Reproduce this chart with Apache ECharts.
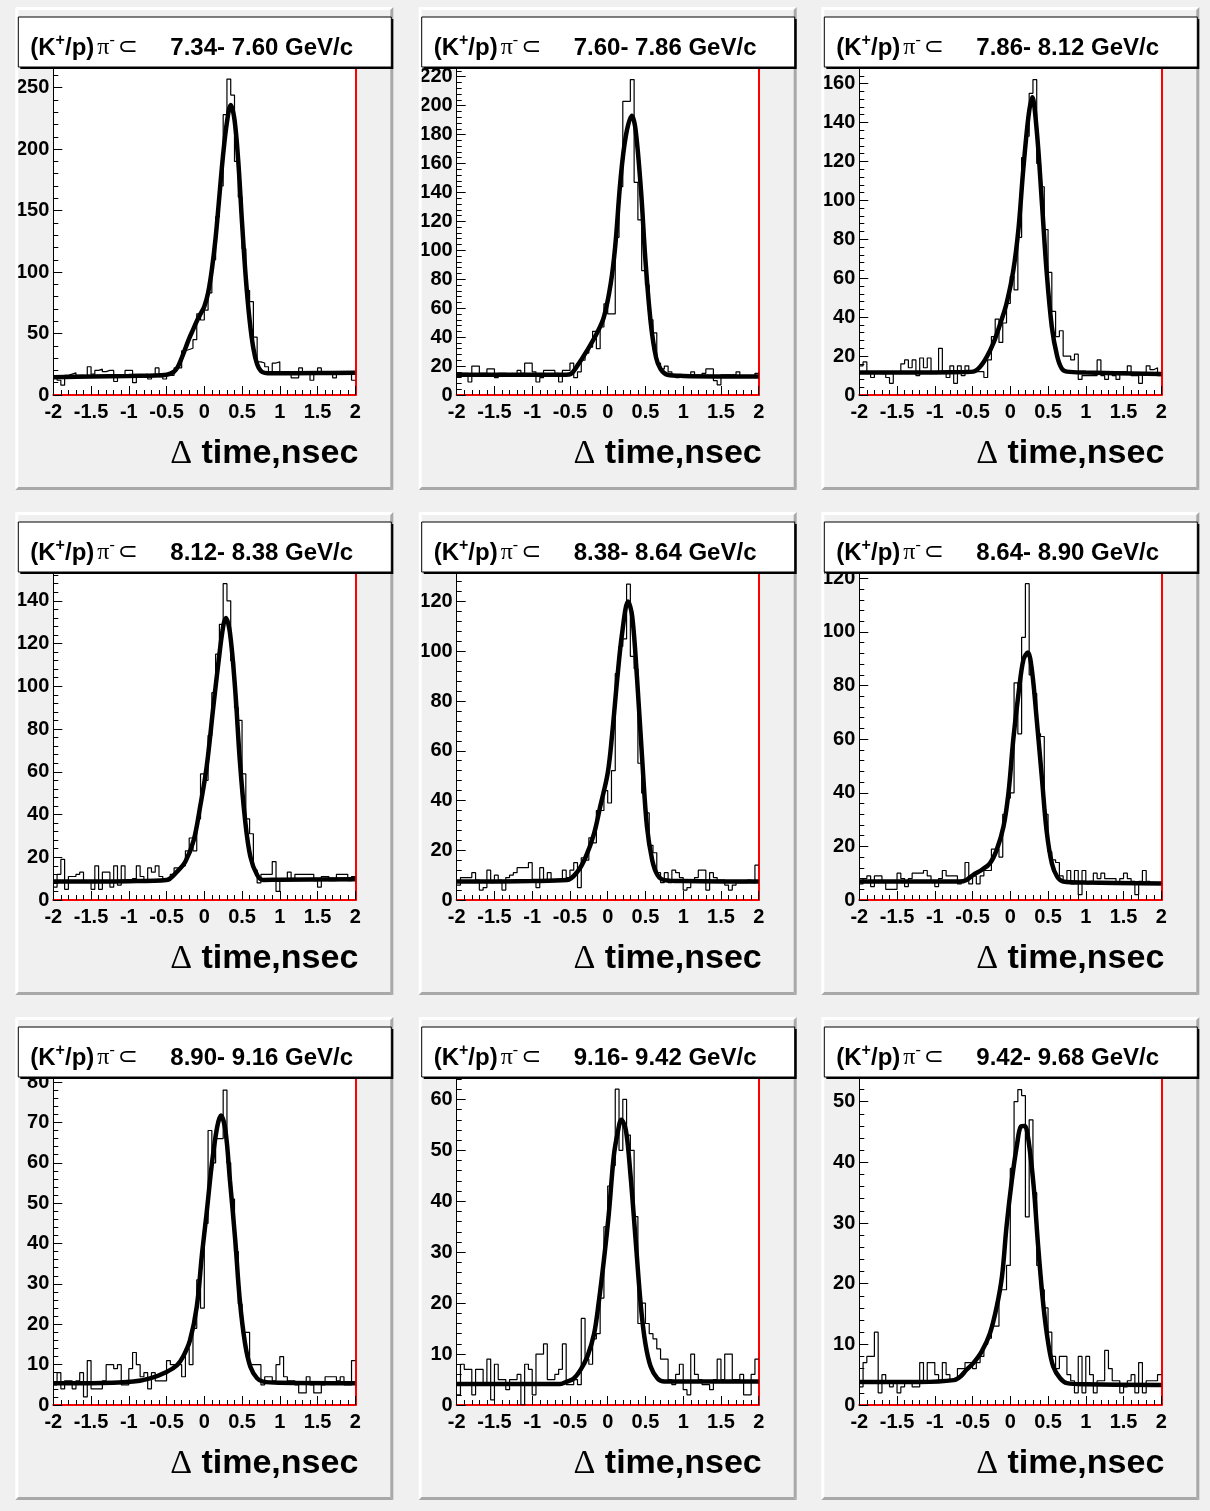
<!DOCTYPE html>
<html><head><meta charset="utf-8">
<script src="https://cdn.jsdelivr.net/npm/echarts@6/dist/echarts.min.js"></script>
<style>html,body{margin:0;padding:0;background:#f0f0f0}#c{width:1210px;height:1511px}</style>
</head><body><div id="c"></div>
<script>
// ---- data ----
const pLow  = ['7.34','7.60','7.86','8.12','8.38','8.64','8.90','9.16','9.42'];
const pHigh = ['7.60','7.86','8.12','8.38','8.64','8.90','9.16','9.42','9.68'];
const xMin = -2, xMax = 2, xMajor = 0.5, xMinor = 0.1, binWidth = 0.05;
const yMax   = [266, 226, 168, 153, 131.5, 122, 81, 64.2, 53.9];
const yMajor = [50, 20, 20, 20, 20, 20, 10, 10, 10];
const yMinor = [10, 4, 4, 4, 4, 4, 2, 2, 2];

const h1 = [15,12,8,16,17,18,16,16,15,23, 17,20,21,19,20,20,11,16,16,20, 20,10,16,16,17,13,16,22,15,13,
            16,16,22,22,36,37,38,45,66,61, 69,83,110,145,170,228,257,244,190,161, 119,85,76,47,27,26,23,19,26,27,
            19,17,17,14,14,22,17,17,12,19, 22,18,18,18,14,19,18,18,18,12];
const h2 = [15,15,15,9,20,20,15,15,18,18, 12,15,15,14,14,14,17,15,22,22, 16,9,12,17,17,17,15,9,17,17,
            22,12,16,24,29,33,44,32,47,63, 56,56,109,144,203,203,218,147,121,86, 76,52,43,22,18,20,16,14,12,14,
            13,13,16,13,13,15,18,18,10,7, 14,14,14,14,16,13,13,13,13,15];
const h3 = [15,17,12,9,12,11,11,9,6,12, 12,16,18,14,18,10,19,14,19,12, 12,24,12,9,15,6,15,10,15,12,
            12,12,12,9,18,30,39,27,37,47, 61,54,81,122,133,155,162,119,107,85, 63,43,30,33,20,20,18,21,8,10,
            10,10,10,18,10,8,12,10,8,12, 12,15,10,10,6,11,15,13,14,10];
const h4 = [6,12,19,5,11,11,12,13,9,9, 5,16,5,13,13,6,16,7,16,9, 9,10,16,11,9,15,13,16,11,9,
            9,12,15,15,16,23,29,23,38,59, 56,77,97,115,129,148,140,112,90,84, 59,38,31,14,8,12,12,12,18,4,
            9,9,13,10,12,12,12,12,12,9, 6,11,11,9,9,12,12,12,9,11];
const h5 = [6,9,9,9,11,8,4,5,12,7, 10,8,4,9,10,11,13,13,13,15, 8,5,13,8,11,8,8,8,12,9,
            12,15,5,17,16,25,23,36,36,44, 39,52,91,102,105,127,98,93,55,43, 35,22,19,11,7,11,7,12,11,9,
            4,5,8,9,12,12,4,11,9,8, 8,6,4,6,7,7,7,8,7,14];
const h6 = [6,8,9,5,9,9,7,4,4,4, 10,8,5,8,10,10,10,11,9,7, 5,8,11,9,9,9,6,7,14,6,
            9,6,9,11,11,19,19,16,32,38, 40,81,62,98,118,84,77,62,61,32, 18,15,14,9,7,11,6,11,2,11,
            6,7,10,8,10,8,8,8,6,8, 10,8,7,2,7,11,7,6,6,6];
const h7 = [5,8,4,6,6,4,6,8,2,11, 4,4,4,6,10,10,9,10,5,5, 9,13,10,7,8,4,8,6,6,6,
            11,10,10,10,7,14,10,19,31,24, 45,68,60,66,66,78,60,51,38,25, 18,18,10,10,10,5,7,7,6,10,
            12,7,6,6,5,3,3,7,5,3, 3,5,7,7,7,6,7,5,5,11];
const h8 = [2,8,7,7,2,7,7,4,9,1, 8,5,5,3,5,5,6,0,8,7, 2,10,10,12,5,5,6,7,12,4,
            4,5,4,17,9,8,13,14,21,35, 43,47,62,50,60,53,50,37,16,20, 16,14,13,11,9,9,5,4,6,8,
            3,2,10,6,5,4,4,3,5,9, 5,10,10,5,5,6,2,2,6,9];
const h9 = [3,7,8,8,12,2,5,4,3,4, 2,3,4,4,3,3,7,4,7,7, 5,4,7,5,4,4,6,6,7,7,
            6,7,8,10,11,13,13,19,19,23, 39,50,52,51,31,47,35,23,19,16, 12,8,6,8,8,5,4,2,8,2,
            8,5,2,4,4,9,6,4,4,2, 3,4,5,2,7,2,4,4,4,5];

const f1 = [[-2,14.5],[-1.5,15],[-1,15.5],[-0.5,16.5],[-0.4,19],[-0.35,23],[-0.3,30],[-0.25,38],[-0.2,46],[-0.15,53],[-0.1,60],[-0.05,66],[0,72],[0.05,83],[0.1,102],[0.15,128],[0.2,162],[0.25,196],[0.3,222],[0.35,236],[0.4,224],[0.45,190],[0.5,140],[0.55,95],[0.6,61],[0.65,38],[0.7,25],[0.75,19.5],[0.8,18],[0.9,17.6],[1.5,17.8],[2,18]];
const f2 = [[-2,14],[-1,14],[-0.55,14],[-0.49,14.5],[-0.41,19.6],[-0.27,31],[-0.14,43],[-0.05,54],[0.04,77],[0.1,103],[0.17,149],[0.24,179],[0.32,193],[0.37,183],[0.44,142],[0.5,93],[0.57,50],[0.64,26],[0.7,18],[0.79,14],[1,13.2],[2,12.7]];
const f3 = [[-2,11.5],[-1,11.6],[-0.6,11.8],[-0.49,12],[-0.4,14.5],[-0.31,19.7],[-0.22,27],[-0.13,37],[-0.05,47],[0.04,64],[0.11,86],[0.17,115],[0.24,143],[0.29,153],[0.35,136],[0.42,98],[0.48,64],[0.55,35],[0.62,20],[0.68,13.7],[0.75,12],[1,11.5],[2,10.8]];
const f4 = [[-2,8.6],[-1,8.8],[-0.5,9.4],[-0.36,13.3],[-0.25,18],[-0.14,28],[-0.055,43.7],[0.03,62],[0.12,90.5],[0.19,112],[0.25,128],[0.285,132],[0.34,125],[0.41,98],[0.47,65.5],[0.54,37.5],[0.61,20.3],[0.7,11.7],[0.78,9.4],[1,9.5],[2,9.7]];
const f5 = [[-2,7.4],[-1,7.6],[-0.54,8],[-0.4,11.4],[-0.29,17.4],[-0.18,26.8],[-0.1,37.5],[0,51],[0.06,67],[0.125,88.5],[0.19,107],[0.27,120],[0.325,114],[0.39,88.5],[0.46,55],[0.52,29.5],[0.59,16],[0.66,10],[0.75,8],[1,7.6],[2,7.4]];
const f6 = [[-2,6.9],[-1,6.9],[-0.67,6.9],[-0.58,7.5],[-0.49,9.4],[-0.38,11.2],[-0.27,13.7],[-0.18,18.7],[-0.09,27.4],[-0.024,40],[0.04,60],[0.11,77.3],[0.175,89.8],[0.232,92.3],[0.285,86],[0.35,67.3],[0.42,45],[0.48,26],[0.55,13.7],[0.62,8.7],[0.7,6.9],[1,6.5],[2,6.2]];
const f7 = [[-2,5.4],[-1.5,5.4],[-0.94,5.8],[-0.72,6.6],[-0.5,8.2],[-0.36,9.9],[-0.28,12],[-0.19,16],[-0.1,24.3],[-0.03,37.5],[0.03,47.4],[0.1,59.7],[0.17,68.8],[0.22,71.7],[0.28,68],[0.34,55.6],[0.41,40.8],[0.47,26],[0.54,15.2],[0.61,9.5],[0.7,6.6],[0.78,5.8],[1,5.5],[2,5.4]];
const f8 = [[-2,4.1],[-1,4.1],[-0.63,4.1],[-0.54,4.6],[-0.45,5.2],[-0.36,6.9],[-0.27,9.5],[-0.18,14],[-0.12,20],[-0.05,28.5],[0.015,37.6],[0.08,48.8],[0.13,53.3],[0.18,56],[0.24,54],[0.3,45.5],[0.37,32.4],[0.44,19.3],[0.5,12],[0.57,7.5],[0.66,5.2],[0.75,4.6],[1,4.6],[2,4.6]];
const f9 = [[-2,3.8],[-1.2,3.8],[-0.75,4.1],[-0.66,4.7],[-0.58,5.8],[-0.49,6.9],[-0.38,8.8],[-0.27,11.8],[-0.18,16.2],[-0.11,21.2],[-0.05,29.4],[0.02,37],[0.09,43],[0.14,45.9],[0.19,46],[0.24,43.7],[0.31,36],[0.37,26],[0.44,16.2],[0.51,9.6],[0.57,6.3],[0.66,4.4],[0.75,3.6],[1,3.4],[2,3.3]];

const hists = [h1,h2,h3,h4,h5,h6,h7,h8,h9];
const fits  = [f1,f2,f3,f4,f5,f6,f7,f8,f9];

// ---- layout ----
const FONT = '"Liberation Sans", Arial, Helvetica, sans-serif';
const SERIF = '"Liberation Serif", "DejaVu Serif", serif';
const AX = [53.3, 456.7, 859.3];
const TOP0 = 68, PITCH = 505, W = 302, H = 327;
const PAD_BG = '#f0f0f0', DARK = '#a8a8a8', LIGHT = '#ffffff';

const option = {
  animation: false,
  backgroundColor: PAD_BG,
  grid: [], xAxis: [], yAxis: [], series: [],
  graphic: { elements: [] }
};
const G = option.graphic.elements;

function poly(points, fill, z) {
  G.push({ type: 'polygon', shape: { points }, style: { fill }, z, silent: true });
}

for (let k = 0; k < 9; k++) {
  const r = Math.floor(k / 3), c = k % 3;
  const left = AX[c], top = TOP0 + PITCH * r;

  option.grid.push({ left, top, width: W, height: H, show: true, backgroundColor: '#ffffff', borderWidth: 0 });

  option.xAxis.push({
    type: 'value', gridIndex: k, min: xMin, max: xMax, interval: xMajor,
    axisLine: { show: true, onZero: false, lineStyle: { color: '#ff0000', width: 2 } },
    axisTick: { show: true, inside: true, length: 9, lineStyle: { color: '#000', width: 1 } },
    minorTick: { show: true, splitNumber: Math.round(xMajor / xMinor), length: 5, lineStyle: { color: '#000', width: 1 } },
    axisLabel: { show: true, margin: 7, fontSize: 20, fontWeight: 'bold', fontFamily: FONT, color: '#000' },
    splitLine: { show: false }, minorSplitLine: { show: false }
  });
  option.yAxis.push({
    type: 'value', gridIndex: k, position: 'left', min: 0, max: yMax[k], interval: yMajor[k],
    axisLine: { show: true, onZero: false, lineStyle: { color: '#000', width: 1 } },
    axisTick: { show: true, inside: true, length: 9, lineStyle: { color: '#000', width: 1 } },
    axisLabel: { show: true, margin: 4, showMaxLabel: false, fontSize: 20, fontWeight: 'bold', fontFamily: FONT, color: '#000' },
    splitLine: { show: false }
  });
  option.yAxis.push({
    type: 'value', gridIndex: k, position: 'left', min: 0, max: yMax[k], interval: yMinor[k],
    axisLine: { show: false, onZero: false },
    axisTick: { show: true, inside: true, length: 5, lineStyle: { color: '#000', width: 1 } },
    axisLabel: { show: false }, splitLine: { show: false }
  });
  option.yAxis.push({
    type: 'value', gridIndex: k, position: 'right', min: 0, max: yMax[k],
    axisLine: { show: true, onZero: false, lineStyle: { color: '#ff0000', width: 2 } },
    axisTick: { show: false }, axisLabel: { show: false }, splitLine: { show: false }
  });

  const hv = hists[k];
  const hd = hv.map((v, i) => [xMin + i * binWidth, v]);
  hd.push([xMax, hv[hv.length - 1]]);
  option.series.push({
    type: 'line', xAxisIndex: k, yAxisIndex: 3 * k, data: hd, step: 'end',
    symbol: 'none', lineStyle: { color: '#000', width: 1.2 }, z: 3
  });
  option.series.push({
    type: 'line', xAxisIndex: k, yAxisIndex: 3 * k, data: fits[k], smooth: 0.35,
    symbol: 'none', lineStyle: { color: '#000', width: 4.5 }, z: 4
  });

  // pad bevel
  const pl = left - 38, pr = left + 340, pt = 7 + PITCH * r, pb = 490 + PITCH * r, b = 3;
  poly([[pl, pt], [pr, pt], [pr - b, pt + b], [pl + b, pt + b]], LIGHT, 1);
  poly([[pl, pt], [pl + b, pt + b], [pl + b, pb - b], [pl, pb]], LIGHT, 1);
  poly([[pr, pt], [pr, pb], [pr - b, pb - b], [pr - b, pt + b]], DARK, 1);
  poly([[pl, pb], [pr, pb], [pr - b, pb - b], [pl + b, pb - b]], DARK, 1);

  // title box
  const tx = left - 35, ty = 17 + PITCH * r, tw = pr - 2 - tx, th = 50;
  G.push({ type: 'rect', shape: { x: tx + 2, y: ty + 2, width: tw, height: th }, style: { fill: '#000' }, z: 100, silent: true });
  G.push({ type: 'rect', shape: { x: tx, y: ty, width: tw, height: th }, style: { fill: '#fff', stroke: '#000', lineWidth: 1 }, z: 101, silent: true });
  G.push({
    type: 'text', x: left - 23, y: ty + 31, z: 102, silent: true,
    style: {
      text: '{a|(K}{s|+}{a|/p)}{g|π}{s2|-}{g2|⊂}',
      align: 'left', textAlign: 'left', verticalAlign: 'middle', textVerticalAlign: 'middle',
      fill: '#000',
      rich: {
        a:  { fontSize: 24, fontWeight: 'bold', fontFamily: FONT, lineHeight: 30, fill: '#000' },
        s:  { fontSize: 16, fontWeight: 'bold', fontFamily: FONT, lineHeight: 16, verticalAlign: 'top', fill: '#000' },
        g:  { fontSize: 24, fontFamily: SERIF, lineHeight: 30, padding: [0, 0, 0, 3], fill: '#000' },
        s2: { fontSize: 16, fontFamily: SERIF, lineHeight: 18, verticalAlign: 'top', fill: '#000' },
        g2: { fontSize: 24, fontFamily: '"DejaVu Sans", sans-serif', lineHeight: 30, padding: [0, 0, 0, 3], fill: '#000' }
      }
    }
  });
  G.push({
    type: 'text', x: left + 117, y: ty + 31, z: 102, silent: true,
    style: {
      text: pLow[k] + '- ' + pHigh[k] + ' GeV/c',
      font: 'bold 24px ' + FONT, fill: '#000',
      align: 'left', textAlign: 'left', verticalAlign: 'middle', textVerticalAlign: 'middle'
    }
  });
  // x-axis title
  G.push({
    type: 'text', x: left + 305, y: 454 + PITCH * r, z: 102, silent: true,
    style: {
      text: '{d|Δ}{t| time,nsec}',
      align: 'right', textAlign: 'right', verticalAlign: 'middle', textVerticalAlign: 'middle',
      fill: '#000',
      rich: {
        d: { fontSize: 34, fontFamily: SERIF, fill: '#000', lineHeight: 40 },
        t: { fontSize: 34, fontWeight: 'bold', fontFamily: FONT, fill: '#000', lineHeight: 40 }
      }
    }
  });
}

const chart = echarts.init(document.getElementById('c'), null, { renderer: 'canvas' });
chart.setOption(option);
</script>
</body></html>
